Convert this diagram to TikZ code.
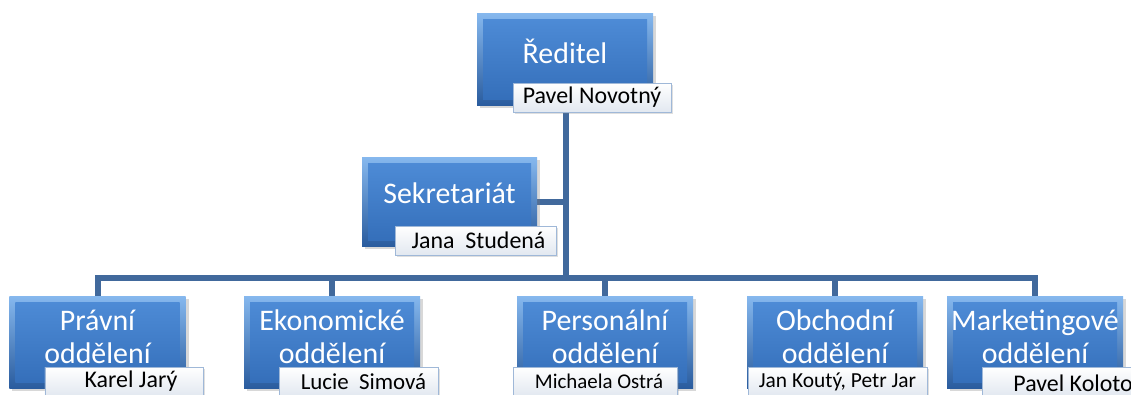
\documentclass[tikz,border=0pt]{standalone}
\usepackage{fontspec}
\setmainfont{Carlito}
\usetikzlibrary{shadows,backgrounds}

\definecolor{linkblue}{HTML}{41699C}
\definecolor{bevelTop}{HTML}{86B8EE}
\definecolor{bevelBot}{HTML}{2A5C9E}
\definecolor{faceTop}{HTML}{4F8DD8}
\definecolor{faceBot}{HTML}{336DB8}
\definecolor{tagEdge}{HTML}{9FB8D8}
\definecolor{tagBot}{HTML}{E2E8F0}

\tikzset{
  unitbox/.style={minimum width=176bp, minimum height=92bp, inner sep=0pt,
    top color=bevelTop, bottom color=bevelBot, draw=none,
    drop shadow={shadow xshift=3bp, shadow yshift=-3bp, opacity=.3},
    path picture={\shade[top color=faceTop, bottom color=faceBot]
      ([shift={(6bp,-6bp)}]path picture bounding box.north west) rectangle
      ([shift={(-6bp,6bp)}]path picture bounding box.south east);}},
  ttl/.style={text=white, font=\fontsize{30}{33}\selectfont, align=center, inner sep=0pt},
  tag/.style={minimum height=29bp, inner sep=0pt, draw=tagEdge, line width=.8bp,
    top color=white, bottom color=tagBot, text=black,
    font=\fontsize{23}{26}\selectfont,
    drop shadow={shadow xshift=2bp, shadow yshift=-2bp, opacity=.25}},
  link/.style={draw=linkblue, line width=6bp}
}

\begin{document}
\begin{tikzpicture}[x=1bp, y=-1bp]
\clip (0,0) rectangle (1131,394);

% director
\node[unitbox, label={[ttl, yshift=8bp]center:Ředitel}] (dir) at (565,59) {};
\node[tag, minimum width=158bp, font=\fontsize{24}{26}\selectfont] (dirN) at (592,97.5) {Pavel Novotný};

% secretariat
\node[unitbox, minimum width=175bp, minimum height=89bp,
      label={[ttl, yshift=8bp]center:Sekretariát}] (sek) at (449.5,201.5) {};
\node[tag, minimum width=161bp, font=\fontsize{24}{26}\selectfont] (sekN) at (475.5,240.5) {\hspace*{6bp}Jana\ \ Studená};

% departments
\node[unitbox, label={[ttl, yshift=5bp]center:Právní\\oddělení}] (prav) at (97.5,342) {};
\node[tag, minimum width=158bp, font=\fontsize{24}{26}\selectfont] (pravN) at (124,381.5) {\hspace*{14bp}Karel Jarý};

\node[unitbox, label={[ttl, yshift=5bp]center:Ekonomické\\oddělení}] (ekon) at (332,342) {};
\node[tag, minimum width=159bp] (ekonN) at (358.5,381.5) {\hspace*{10bp}Lucie\ \ Simová};

\node[unitbox, label={[ttl, yshift=5bp]center:Personální\\oddělení}] (pers) at (605,342) {};
\node[tag, minimum width=164bp, font=\fontsize{21}{24}\selectfont] (persN) at (595,381.5) {\hspace*{8bp}Michaela Ostrá};

\node[unitbox, label={[ttl, yshift=5bp]center:Obchodní\\oddělení}] (obch) at (835,342) {};
\node[tag, minimum width=179bp, font=\fontsize{21.5}{24}\selectfont] (obchN) at (837.5,381.5) {Jan Koutý, Petr Jar};

\node[unitbox, label={[ttl, yshift=5bp]center:Marketingové\\oddělení}] (mark) at (1035,342) {};
\node[tag, minimum width=159bp, anchor=west] (markN) at (982,381.5) {};
\node[text=black, font=\fontsize{24}{26}\selectfont, anchor=east, inner sep=0pt] (markT) at (1133,383) {Pavel Koloto};

% connectors behind the boxes, on a white ground
\coordinate (bus) at (566,278);
\begin{scope}[on background layer]
  \fill[white] (0,0) rectangle (1131,394);
  \draw[link] (dir.south -| bus) -- (bus);
  \draw[link] (sek.east) -- (sek.east -| bus);
  \draw[link] (prav.north) |- (bus) -| (mark.north);
  \draw[link] (ekon.north) -- (ekon.north |- bus);
  \draw[link] (pers.north) -- (pers.north |- bus);
  \draw[link] (obch.north) -- (obch.north |- bus);
\end{scope}
\end{tikzpicture}
\end{document}
